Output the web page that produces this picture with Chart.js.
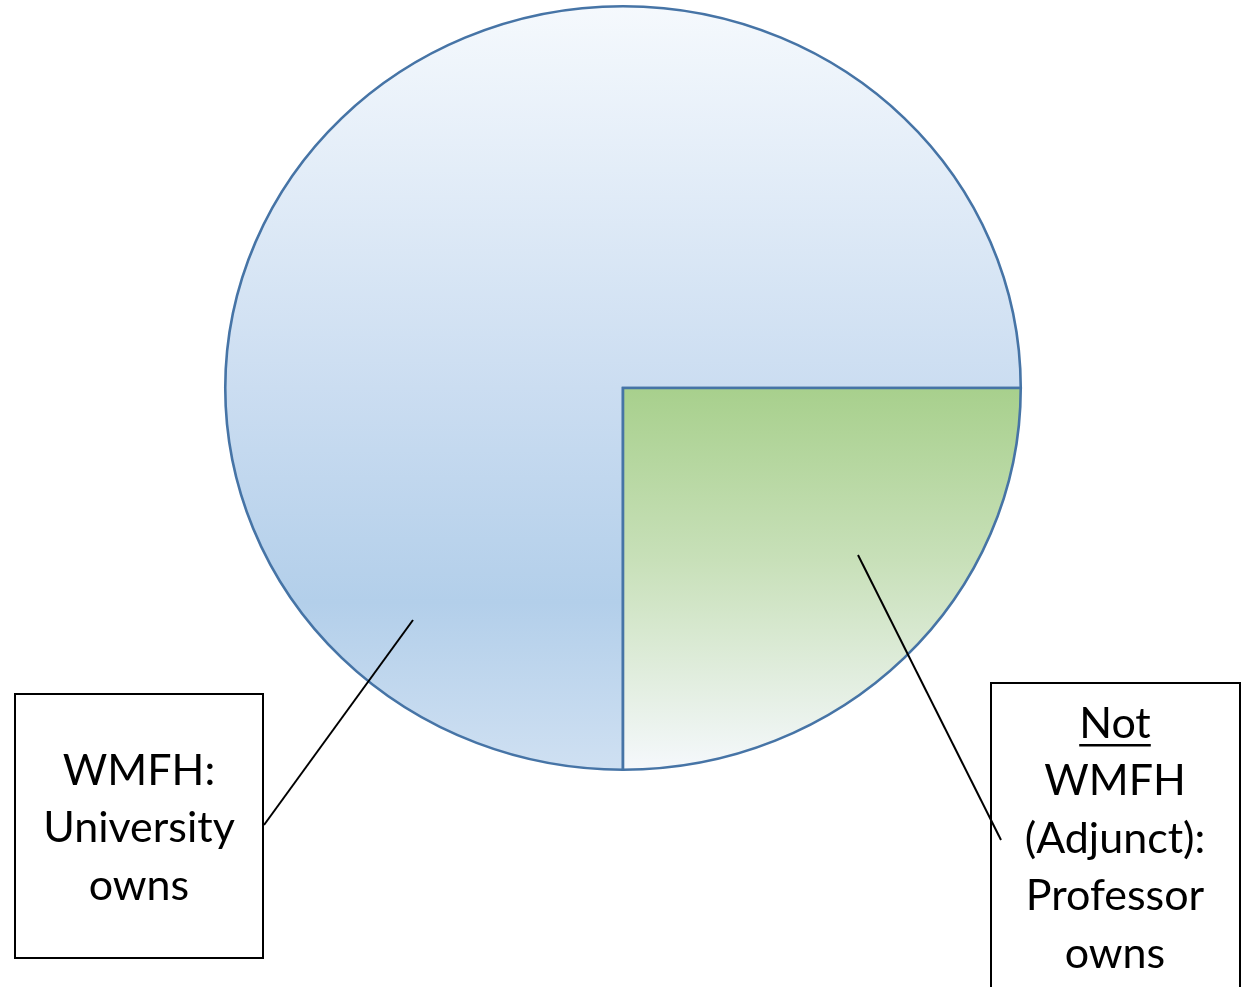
<!DOCTYPE html>
<html>
<head>
<meta charset="utf-8">
<script src="https://cdn.jsdelivr.net/npm/chart.js@4/dist/chart.umd.min.js"></script>
<style>
  body { margin: 0; background: #fff; }
  #wrap { width: 1250px; height: 987px; }
</style>
</head>
<body>
<div id="wrap"><canvas id="pieCanvas" width="1250" height="987"></canvas></div>
<script>
// data
const categories = ["WMFH: University owns", "Not WMFH (Adjunct): Professor owns"];
const shares = [75, 25];
const labelLines = [
  ["WMFH:", "University", "owns"],
  ["Not", "WMFH", "(Adjunct):", "Professor", "owns"]
];

// look
const stretchX = 398 / 382;   // the pie in the picture is a bit wider than tall
const edgeColor = "#4674a6";

// vertical gradients, one per slice
function sliceFill(ctx) {
  const c = ctx.chart.ctx;
  let g;
  if (ctx.dataIndex === 0) {
    g = c.createLinearGradient(0, 6, 0, 770);
    g.addColorStop(0, "#f5f9fd");
    g.addColorStop(0.5, "#cbddf1");
    g.addColorStop(0.78, "#b3cfea");
    g.addColorStop(1, "#cfe0f2");
  } else {
    g = c.createLinearGradient(0, 390, 0, 770);
    g.addColorStop(0, "#a8d08d");
    g.addColorStop(0.45, "#c8e0b9");
    g.addColorStop(1, "#f5f8fc");
  }
  return g;
}

// stretch the pie into an ellipse
const ellipsePlugin = {
  id: "ellipse",
  beforeDatasetsDraw(chart) {
    const arc = chart.getDatasetMeta(0).data[0];
    const c = chart.ctx;
    c.save();
    c.translate(arc.x, arc.y);
    c.scale(stretchX, 1);
    c.translate(-arc.x, -arc.y);
  },
  afterDatasetsDraw(chart) {
    chart.ctx.restore();
  }
};

// callout boxes with leader lines
const calloutPlugin = {
  id: "callouts",
  afterDraw(chart) {
    const c = chart.ctx;
    const boxes = [
      { x: 15, y: 694, w: 248, h: 264, cx: 139, firstY: 771, line: [264, 825, 413, 620] },
      { x: 991, y: 683, w: 249, h: 320, cx: 1115, firstY: 724, line: [1001, 840, 858, 555] }
    ];
    c.save();
    c.strokeStyle = "#000";
    c.fillStyle = "#000";
    c.lineWidth = 2;
    boxes.forEach((b, i) => {
      c.strokeRect(b.x, b.y, b.w, b.h);
      c.beginPath();
      c.moveTo(b.line[0], b.line[1]);
      c.lineTo(b.line[2], b.line[3]);
      c.stroke();
      c.font = "43px Lato, 'Open Sans', sans-serif";
      c.textAlign = "center";
      c.textBaseline = "middle";
      labelLines[i].forEach((t, k) => {
        const y = b.firstY + k * 57.5;
        c.fillText(t, b.cx, y);
        if (i === 1 && k === 0) {
          const w = c.measureText(t).width;
          c.fillRect(b.cx - w / 2, y + 20, w, 2.5);
        }
      });
    });
    c.restore();
  }
};

const pieChart = new Chart(document.getElementById("pieCanvas"), {
  type: "pie",
  data: {
    labels: categories,
    datasets: [{
      data: shares,
      backgroundColor: sliceFill,
      borderColor: edgeColor,
      borderWidth: 2.5,
      borderJoinStyle: "miter"
    }]
  },
  options: {
    responsive: false,
    devicePixelRatio: 1,
    animation: false,
    rotation: 180,
    layout: { padding: { top: 5, bottom: 216, left: 0, right: 4 } },
    plugins: {
      legend: { display: false },
      tooltip: { enabled: false }
    }
  },
  plugins: [ellipsePlugin, calloutPlugin]
});
</script>
</body>
</html>
